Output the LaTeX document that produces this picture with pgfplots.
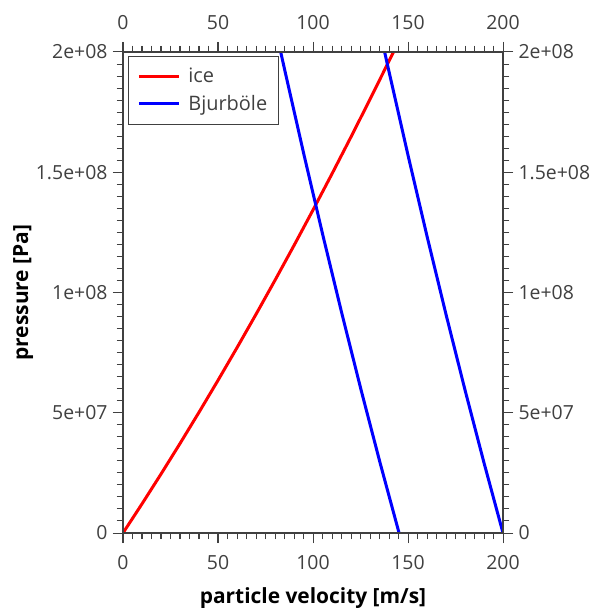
\documentclass[border=0pt]{standalone}
\usepackage{fontspec}
\setmainfont{Open Sans}
\usepackage{pgfplots}
\pgfplotsset{compat=1.18}
\usetikzlibrary{calc}
\definecolor{axgray}{RGB}{64,64,64}

\pgfplotsset{base/.style={
    scale only axis,
    width=380bp, height=481bp,
    xmin=0, xmax=200, ymin=0, ymax=2e8,
    xtick={0,50,...,200}, minor x tick num=9,
    ytick={0,5e7,1e8,1.5e8,2e8},
    yticklabels={0,5e+07,1e+08,1.5e+08,2e+08},
    minor y tick num=9,
    scaled y ticks=false,
    tick align=outside,
    major tick length=10bp, minor tick length=6bp,
    axis line style={axgray, line width=1.2bp},
    every tick/.style={axgray, line width=1bp},
    tick label style={font=\fontsize{19.5}{21}\selectfont, text=axgray},
    xticklabel shift=9bp, yticklabel shift=2bp,
    /pgf/number format/assume math mode=true,
}}

\begin{document}
\begin{tikzpicture}
\begin{axis}[base,
    xlabel={\bfseries particle velocity [m/s]},
    ylabel={\bfseries pressure [Pa]},
    label style={font=\fontsize{21}{23}\selectfont, text=black},
    xlabel style={yshift=-11bp},
    ylabel style={yshift=-4bp},
    legend style={at={(0.013,0.992)}, anchor=north west,
        draw=axgray, line width=1bp, font=\fontsize{20}{22}\selectfont,
        text=axgray, row sep=7bp, inner xsep=9bp, inner ysep=10bp},
    legend cell align=left,
    legend image code/.code={\draw[#1] (0bp,0bp) -- (40bp,0bp);
        \path (46bp,0bp);},
]
% ice
\addplot[red, line width=3bp] coordinates {
    (0,0) (10,1.2107e7) (20,2.4508e7) (30,3.7203e7) (40,5.0192e7)
    (50,6.3475e7) (60,7.7052e7) (70,9.0923e7) (80,1.05088e8)
    (90,1.19547e8) (100,1.343e8) (110,1.49347e8) (120,1.64688e8)
    (130,1.80323e8) (140,1.96252e8) (142.4,2.0e8)
};
\addlegendentry{ice}
% Bjurboele, two impact speeds
\addplot[blue, line width=3bp] coordinates {
    (145.3,0) (135.3,2.9188e7) (125.3,5.9492e7) (115.3,9.0912e7)
    (105.3,1.23448e8) (95.3,1.571e8) (85.3,1.91868e8) (83.0,2.0e8)
};
\addlegendentry{Bjurböle}
\addplot[blue, line width=3bp, forget plot] coordinates {
    (200,0) (190,2.9188e7) (180,5.9492e7) (170,9.0912e7)
    (160,1.23448e8) (150,1.571e8) (140,1.91868e8) (137.7,2.0e8)
};
\end{axis}
\begin{axis}[base, xticklabel pos=right, yticklabel pos=right]
\end{axis}
\pgfresetboundingbox
\path ($(current axis.south west)+(-123bp,-75bp)$) rectangle ($(current axis.north east)+(92bp,52bp)$);
\end{tikzpicture}
\end{document}
